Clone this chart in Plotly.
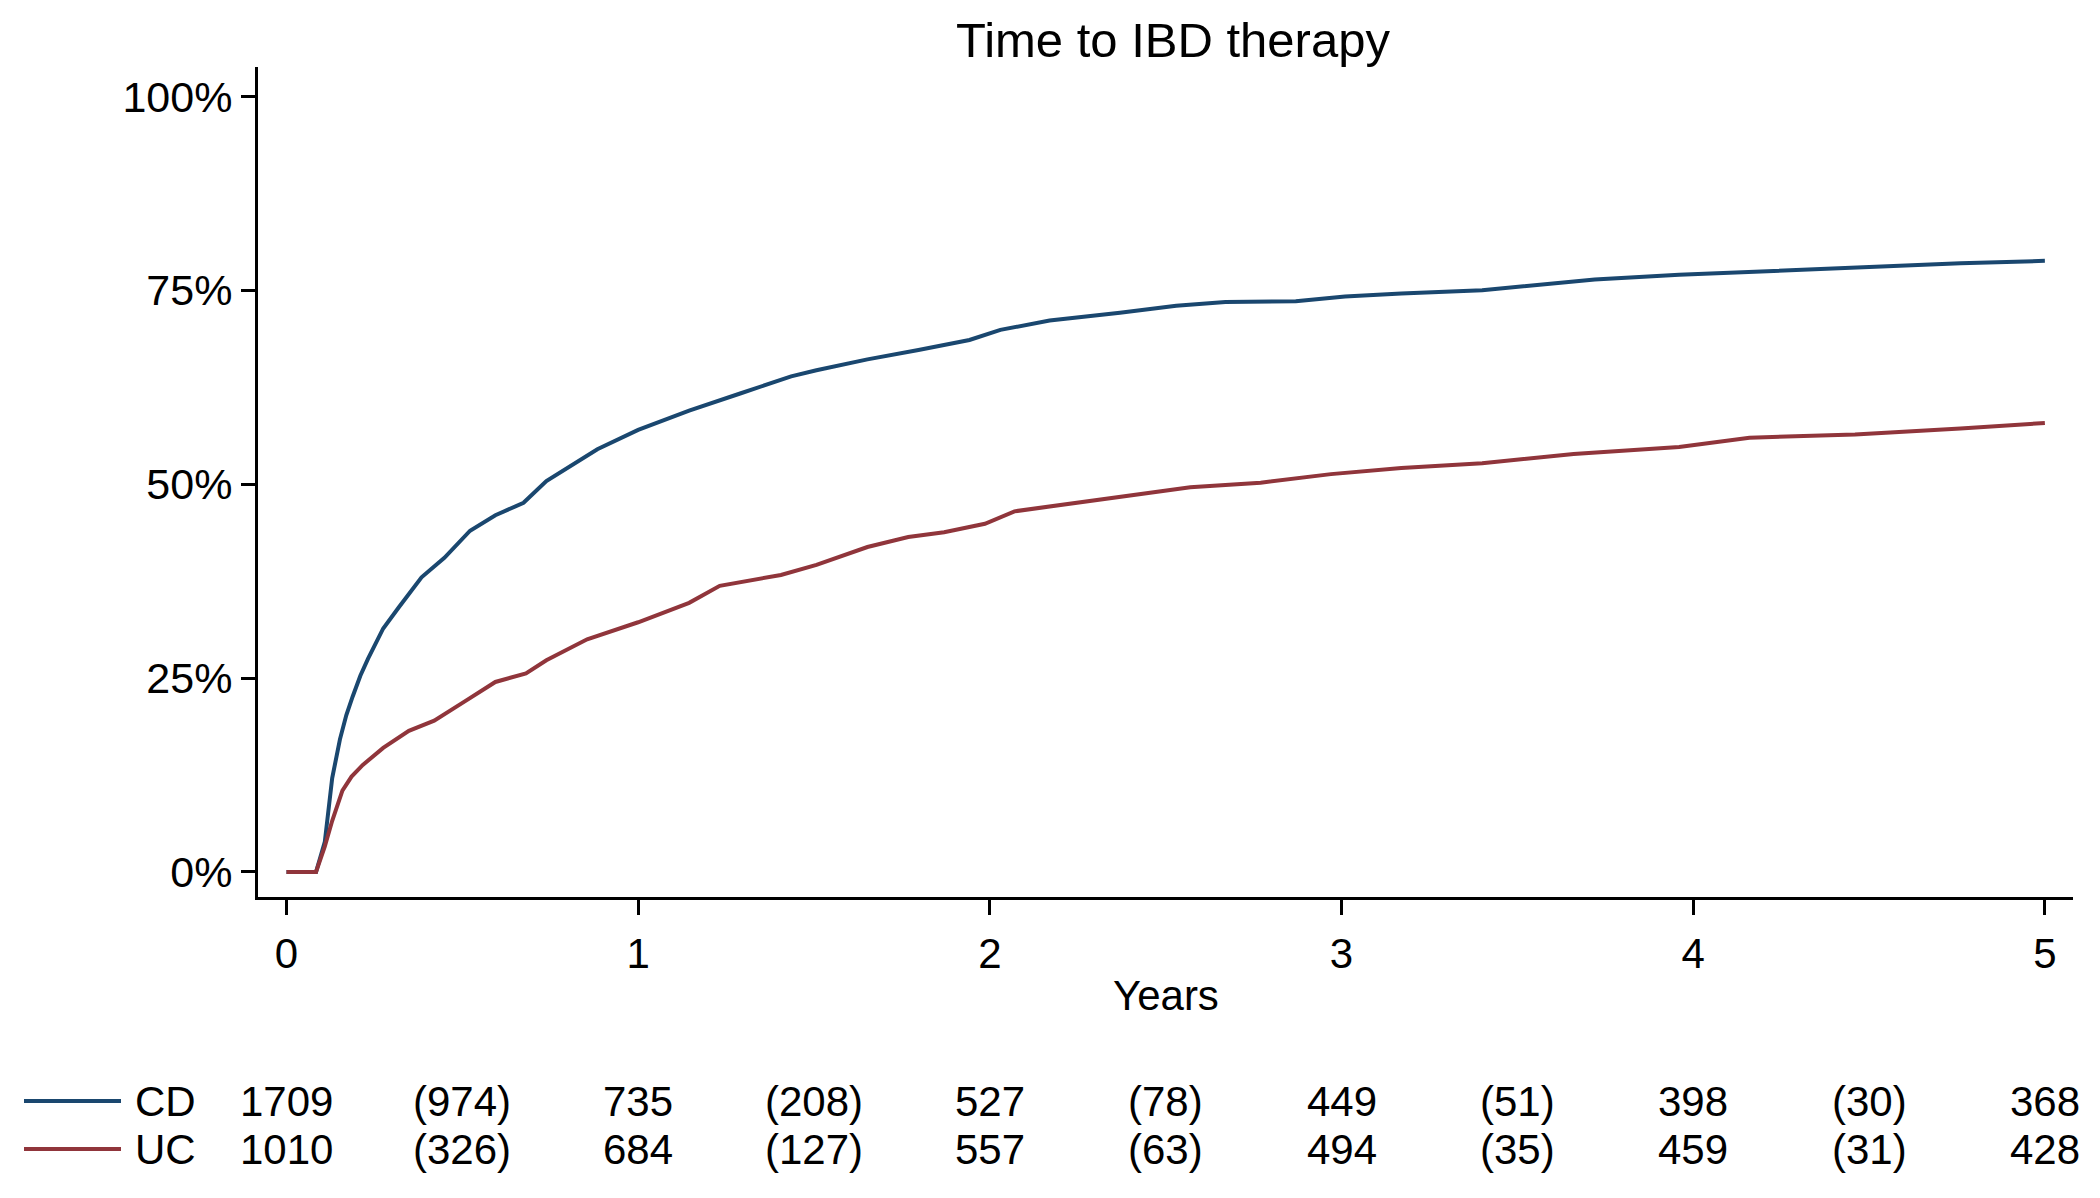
import plotly.graph_objects as go

# ---- Data ----
cd_years = [0, 0.084, 0.109, 0.130, 0.152, 0.170, 0.188, 0.210, 0.232, 0.275, 0.319, 0.384, 0.449, 0.522,
            0.594, 0.674, 0.739, 0.884, 1.0, 1.145, 1.29, 1.435, 1.507, 1.652, 1.797, 1.942,
            2.03, 2.17, 2.37, 2.53, 2.67, 2.87, 3.01, 3.17, 3.40, 3.56, 3.72, 3.96, 4.26,
            4.46, 4.76, 5.0]
cd_pct = [0, 0, 3.9, 12.1, 17.1, 20.2, 22.6, 25.3, 27.5, 31.4, 34.1, 38.0, 40.5, 44.0,
          46.0, 47.6, 50.4, 54.5, 57.0, 59.5, 61.7, 63.9, 64.7, 66.1, 67.3, 68.6,
          69.9, 71.1, 72.1, 73.0, 73.5, 73.6, 74.2, 74.6, 75.0, 75.7, 76.4, 77.0, 77.6,
          78.0, 78.5, 78.8]

uc_years = [0, 0.084, 0.109, 0.130, 0.159, 0.185, 0.217, 0.275, 0.348, 0.42, 0.507, 0.594, 0.681,
            0.739, 0.855, 1.0, 1.145, 1.232, 1.406, 1.507, 1.652, 1.768, 1.87, 1.986,
            2.07, 2.27, 2.47, 2.57, 2.77, 2.97, 3.17, 3.40, 3.66, 3.96, 4.16, 4.46, 4.76, 5.0]
uc_pct = [0, 0, 3.3, 6.6, 10.5, 12.3, 13.8, 16.0, 18.2, 19.5, 22.0, 24.5, 25.6,
          27.3, 30.0, 32.2, 34.7, 36.9, 38.3, 39.6, 41.9, 43.2, 43.8, 44.9,
          46.5, 47.7, 48.9, 49.6, 50.2, 51.3, 52.1, 52.7, 53.9, 54.8, 56.0, 56.4, 57.2, 57.9]

x_ticks = [0, 1, 2, 3, 4, 5]
y_ticks = [0, 25, 50, 75, 100]
y_tick_labels = ["0%", "25%", "50%", "75%", "100%"]

table_x = [0, 0.5, 1, 1.5, 2, 2.5, 3, 3.5, 4, 4.5, 5]
cd_table = ["1709", "(974)", "735", "(208)", "527", "(78)", "449", "(51)", "398", "(30)", "368"]
uc_table = ["1010", "(326)", "684", "(127)", "557", "(63)", "494", "(35)", "459", "(31)", "428"]

groups = ["CD", "UC"]
colors = ["#1a476f", "#90353b"]

FONT = "Liberation Sans, Arial, sans-serif"
W, H = 2100, 1198
ML, MR, MT, MB = 258, 27, 67, 301
PH = H - MT - MB

fig = go.Figure()
fig.add_trace(go.Scatter(x=cd_years, y=cd_pct, mode="lines", name="CD",
                         line=dict(color=colors[0], width=4)))
fig.add_trace(go.Scatter(x=uc_years, y=uc_pct, mode="lines", name="UC",
                         line=dict(color=colors[1], width=4)))

def ypaper(px):
    return (H - MB - px) / PH

def xpaper(px):
    return (px - ML) / (W - ML - MR)

annotations = []
# x-axis title
annotations.append(dict(text="Years", x=2.5, xref="x", y=ypaper(995), yref="paper",
                        showarrow=False, font=dict(size=42, family=FONT, color="black"),
                        xanchor="center", yanchor="middle"))
rows = [(cd_table, 1101), (uc_table, 1149)]
shapes = []
for gi, (vals, ypx) in enumerate(rows):
    for xv, t in zip(table_x, vals):
        annotations.append(dict(text=t, x=xv, xref="x", y=ypaper(ypx), yref="paper",
                                showarrow=False, font=dict(size=42, family=FONT, color="black"),
                                xanchor="center", yanchor="middle"))
    annotations.append(dict(text=groups[gi], x=xpaper(133), xref="paper", y=ypaper(ypx),
                            yref="paper", showarrow=False,
                            font=dict(size=42, family=FONT, color="black"),
                            xanchor="left", yanchor="middle"))
    shapes.append(dict(type="line", xref="paper", yref="paper",
                       x0=xpaper(24), x1=xpaper(121), y0=ypaper(ypx), y1=ypaper(ypx),
                       line=dict(color=colors[gi], width=4)))

fig.update_layout(
    width=W, height=H,
    margin=dict(l=ML, r=MR, t=MT, b=MB),
    paper_bgcolor="white", plot_bgcolor="white",
    showlegend=False,
    title=dict(text="Time to IBD therapy", x=xpaper(1173), xref="paper",
               xanchor="center", y=1 - 40 / H, yanchor="middle",
               font=dict(size=49, family=FONT, color="black")),
    font=dict(family=FONT, color="black"),
    annotations=annotations,
    shapes=shapes,
)
fig.update_xaxes(range=[-0.081, 5.08], tickvals=x_ticks, ticktext=[str(v) for v in x_ticks],
                 showgrid=False, zeroline=False, showline=True, linecolor="black", linewidth=3,
                 ticks="outside", ticklen=15, tickwidth=2.5, tickcolor="black",
                 tickfont=dict(size=42, family=FONT, color="black"), ticklabelstandoff=3)
fig.update_yaxes(range=[-3.23, 103.8], tickvals=y_ticks, ticktext=y_tick_labels,
                 showgrid=False, zeroline=False, showline=True, linecolor="black", linewidth=3,
                 ticks="outside", ticklen=14, tickwidth=2.5, tickcolor="black",
                 tickfont=dict(size=43, family=FONT, color="black"), ticklabelstandoff=0)

fig.write_html("out.html")
